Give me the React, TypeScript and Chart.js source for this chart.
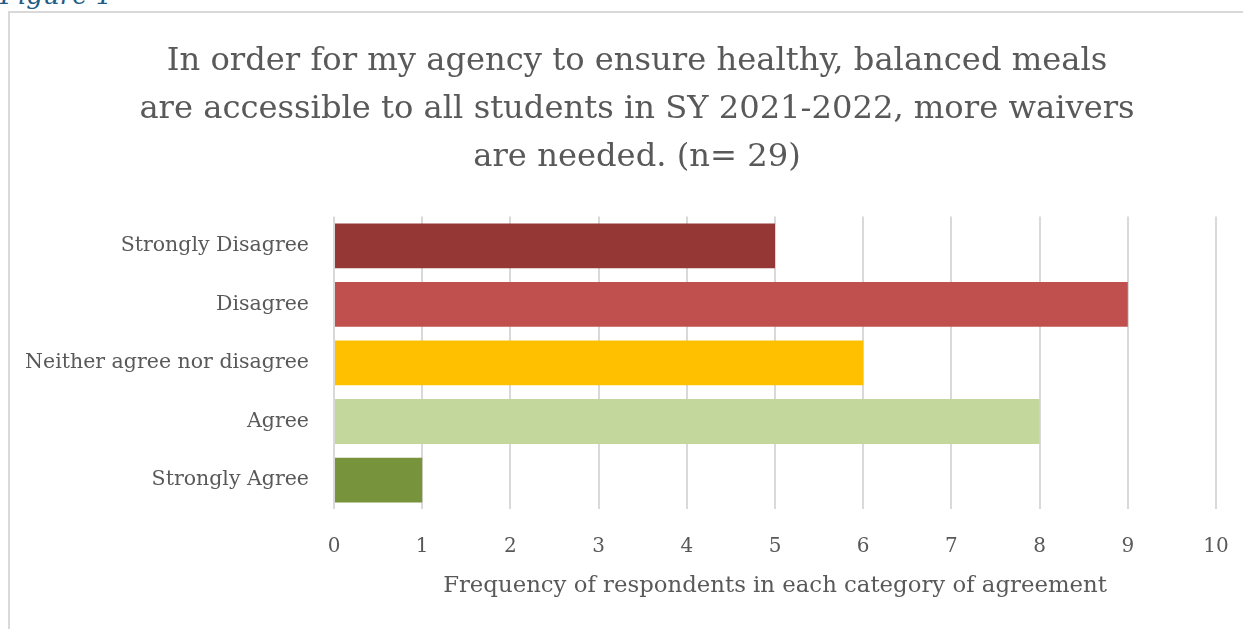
import React, { useEffect, useRef } from "react";
import { Chart, registerables } from "chart.js";

Chart.register(...registerables);

const categories = [
  "Strongly Disagree",
  "Disagree",
  "Neither agree nor disagree",
  "Agree",
  "Strongly Agree",
];
const counts = [5, 9, 6, 8, 1];
const barColors = ["#953735", "#C0504D", "#FFC000", "#C3D69B", "#77933C"];
const xMin = 0;
const xMax = 10;
const xStep = 1;
const titleLines = [
  "In order for my agency to ensure healthy, balanced meals",
  "are accessible to all students in SY 2021-2022, more waivers",
  "are needed. (n= 29)",
];
const xAxisTitle = "Frequency of respondents in each category of agreement";
const figureLabel = "Figure 1";

const FONT = '"DejaVu Serif", serif';
const W = 1254;
const H = 620;
const PAD_RIGHT = 48;

// Make the title span the full canvas width so it centres like the original.
const fullWidthTitle = {
  id: "fullWidthTitle",
  afterLayout(chart: any) {
    const t = chart.titleBlock;
    if (t) {
      t.left = 0;
      t.right = chart.width;
      t.width = chart.width;
    }
  },
};

export default function App() {
  const ref = useRef<HTMLCanvasElement | null>(null);

  useEffect(() => {
    if (!ref.current) return;
    const chart = new Chart(ref.current, {
      type: "bar",
      data: {
        labels: categories,
        datasets: [
          {
            data: counts,
            backgroundColor: barColors,
            borderWidth: 0,
            barPercentage: 0.765,
            categoryPercentage: 1,
          },
        ],
      },
      plugins: [fullWidthTitle],
      options: {
        indexAxis: "y",
        responsive: false,
        animation: false,
        devicePixelRatio: 1,
        layout: { padding: { left: 0, right: PAD_RIGHT, top: 0, bottom: 0 } },
        plugins: {
          legend: { display: false },
          tooltip: { enabled: false },
          title: {
            display: true,
            text: titleLines,
            color: "#595959",
            font: { family: FONT, size: 32.2, weight: "normal", lineHeight: 1.5 },
            padding: { top: 24, bottom: 34.6 },
          },
        },
        scales: {
          x: {
            min: xMin,
            max: xMax,
            afterFit: (scale: any) => {
              scale.height = H - 496.4;
            },
            ticks: {
              stepSize: xStep,
              color: "#595959",
              font: { family: FONT, size: 20 },
              padding: 25,
            },
            grid: {
              color: "#d9d9d9",
              lineWidth: 2,
              drawTicks: false,
            },
            border: { display: false },
            title: {
              display: true,
              text: xAxisTitle,
              color: "#595959",
              font: { family: FONT, size: 22.8 },
              padding: { top: 0, bottom: 33 },
            },
          },
          y: {
            afterFit: (scale: any) => {
              scale.width = 324;
            },
            ticks: {
              color: "#595959",
              font: { family: FONT, size: 20.5 },
              padding: 25,
            },
            grid: { display: false, drawTicks: false },
            border: { display: false },
          },
        },
      },
    });
    return () => chart.destroy();
  }, []);

  return (
    <div
      style={{
        position: "fixed",
        left: 0,
        top: 0,
        width: 1243,
        height: 629,
        overflow: "hidden",
        background: "#ffffff",
      }}
    >
      <div
        style={{
          position: "absolute",
          left: 0,
          top: -18,
          fontFamily: FONT,
          fontStyle: "italic",
          fontSize: 26,
          lineHeight: "26px",
          color: "#1F5C85",
          whiteSpace: "nowrap",
        }}
      >
        {figureLabel}
      </div>
      <div
        style={{
          position: "absolute",
          left: 8,
          top: 11,
          width: 1400,
          height: 800,
          border: "2px solid #d9d9d9",
          boxSizing: "border-box",
        }}
      />
      <canvas
        ref={ref}
        width={W}
        height={H}
        style={{ position: "absolute", left: 10, top: 13, width: W, height: H }}
      />
    </div>
  );
}
